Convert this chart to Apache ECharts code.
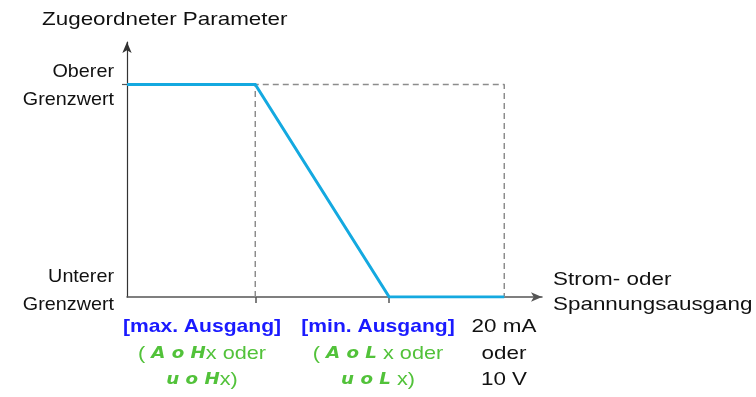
<!DOCTYPE html>
<html>
<head>
<meta charset="utf-8">
<script src="https://cdn.jsdelivr.net/npm/echarts@6/dist/echarts.min.js"></script>
<style>
  html, body { margin: 0; padding: 0; background: #fff; }
  #chart { width: 756px; height: 397px; }
</style>
</head>
<body>
<div id="chart"></div>
<script>
// Output signal axis (mA), parameter axis (lower limit = 0, upper limit = 1)
const outputMax = 22;
const paramMax = 1.2;

// Assigned-parameter profile over the output range
const profileOutput = [0, 6.8, 13.9, 20];
const profileParam = [1, 1, 0, 0];

// Dashed reference frame: max-output line, upper limit, full-scale line
const frameOutput = [6.8, 6.8, 20, 20];
const frameParam = [0, 1, 1, 0];

// Tick positions on the output axis and the parameter axis
const outputTicks = [6.8, 13.9];
const paramTicks = [1];

// Texts
const titleText = 'Zugeordneter Parameter';
const upperLabel = ['Oberer', 'Grenzwert'];
const lowerLabel = ['Unterer', 'Grenzwert'];
const outputAxisName = ['Strom- oder', 'Spannungsausgang'];
const maxOutLabel = ['[max. Ausgang]', 'AoH', 'x oder', 'uoH', 'x)'];
const minOutLabel = ['[min. Ausgang]', 'AoL', ' x oder', 'uoL', ' x)'];
const fullScaleLabel = ['20 mA', 'oder', '10 V'];

const FONT = '"Liberation Sans", Arial, sans-serif';
const TEXT_SIZE = 19;
const STRETCH = 1.18;
const LEFT_STRETCH = 1.04;
const BOLD_STRETCH = 1.11;
const CODE_STRETCH = 1.14;
const AXIS_COLOR = '#555555';
const BLUE = '#1a1aff';
const GREEN = '#52c23a';

function pairs(xs, ys) { return xs.map((x, i) => [x, ys[i]]); }

const chart = echarts.init(document.getElementById('chart'), null, { renderer: 'canvas' });

chart.setOption({
  animation: false,
  backgroundColor: '#ffffff',
  grid: { left: 127, right: 214, top: 42, bottom: 100, containLabel: false },
  xAxis: {
    type: 'value', min: 0, max: outputMax,
    axisLine: { show: true, onZero: false, symbol: ['none', 'arrow'], symbolSize: [7, 11],
      lineStyle: { color: AXIS_COLOR, width: 1.5 } },
    axisTick: { show: true, customValues: outputTicks, length: 6, inside: false,
      lineStyle: { color: AXIS_COLOR, width: 1.5 } },
    axisLabel: { show: false },
    splitLine: { show: false }
  },
  yAxis: {
    type: 'value', min: 0, max: paramMax,
    axisLine: { show: true, onZero: false, symbol: ['none', 'arrow'], symbolSize: [7, 11],
      lineStyle: { color: '#333333', width: 1.2 } },
    axisTick: { show: true, customValues: paramTicks, length: 5, inside: false,
      lineStyle: { color: AXIS_COLOR, width: 1.2 } },
    axisLabel: { show: false },
    splitLine: { show: false }
  },
  series: [
    {
      type: 'line', data: pairs(frameOutput, frameParam), symbol: 'none', z: 2,
      lineStyle: { color: '#8c8c8c', width: 1.5, type: [6, 4] }
    },
    {
      type: 'line', data: pairs(profileOutput, profileParam), symbol: 'none', z: 3,
      lineStyle: { color: '#14a9e0', width: 3, cap: 'butt', join: 'miter' }
    }
  ]
});

// Free-standing texts, placed around the axes
function txt(x, y, text, align, stretch, extra) {
  return {
    type: 'text', x: x, y: y, scaleX: stretch, z: 10,
    style: Object.assign({ x: 0, y: 0, text: text, align: align, verticalAlign: 'middle',
      fontFamily: FONT, fontSize: TEXT_SIZE, fontWeight: 'normal', fill: '#111111' }, extra || {})
  };
}

const segStyle = { fill: GREEN, fontFamily: '"DejaVu Sans", sans-serif', fontWeight: 'bold',
  fontStyle: 'italic', fontSize: 16 };
const greenStyle = { fill: GREEN, fontFamily: FONT, fontSize: TEXT_SIZE };

function codeLine(x, y, seg, rest, prefix) {
  let t = '';
  if (prefix) t += '{p|' + prefix + '}';
  t += '{s|' + seg.split('').join(' ') + '}{n|' + rest + '}';
  return {
    type: 'text', x: x, y: y, scaleX: CODE_STRETCH, z: 10,
    style: { x: 0, y: 0, text: t, align: 'center', verticalAlign: 'middle',
      rich: { p: greenStyle, s: segStyle, n: greenStyle } }
  };
}

const boldBlue = { fill: BLUE, fontWeight: 'bold' };

const graphics = [
  txt(42, 20, titleText, 'left', STRETCH),
  txt(114, 72, upperLabel[0], 'right', LEFT_STRETCH),
  txt(114, 100, upperLabel[1], 'right', LEFT_STRETCH),
  txt(114, 277, lowerLabel[0], 'right', LEFT_STRETCH),
  txt(114, 305, lowerLabel[1], 'right', LEFT_STRETCH),
  txt(553, 280, outputAxisName[0], 'left', STRETCH),
  txt(553, 305, outputAxisName[1], 'left', STRETCH),
  txt(202, 327, maxOutLabel[0], 'center', BOLD_STRETCH, boldBlue),
  codeLine(202, 354, maxOutLabel[1], maxOutLabel[2], '( '),
  codeLine(202, 380, maxOutLabel[3], maxOutLabel[4]),
  txt(378, 327, minOutLabel[0], 'center', BOLD_STRETCH, boldBlue),
  codeLine(378, 354, minOutLabel[1], minOutLabel[2], '( '),
  codeLine(378, 380, minOutLabel[3], minOutLabel[4]),
  txt(504, 327, fullScaleLabel[0], 'center', STRETCH),
  txt(504, 354, fullScaleLabel[1], 'center', STRETCH),
  txt(504, 380, fullScaleLabel[2], 'center', STRETCH)
];

chart.setOption({ graphic: graphics });
</script>
</body>
</html>
